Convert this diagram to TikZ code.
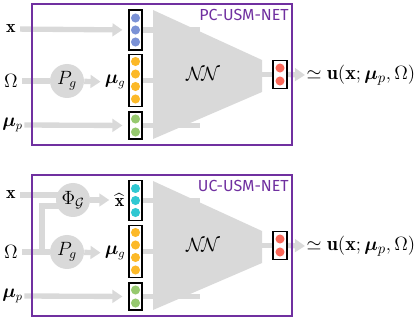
\documentclass[tikz,border=0pt]{standalone}
\usepackage{amsmath,amssymb,bm}
\usepackage{fontspec}
\setsansfont{Fira Sans}
\usetikzlibrary{arrows.meta,positioning,calc,backgrounds}
\definecolor{frame}{RGB}{112,48,160}
\definecolor{flow}{gray}{0.85}
\definecolor{dotblue}{RGB}{123,146,214}
\definecolor{dotorange}{RGB}{252,185,40}
\definecolor{dotgreen}{RGB}{150,201,110}
\definecolor{dotred}{RGB}{250,105,90}
\definecolor{dotcyan}{RGB}{48,200,210}
\newcommand{\bx}{\mathbf{x}}
\newcommand{\bmu}{\bm{\mu}}
\tikzset{vec/.style={draw,line width=0.8pt,minimum width=9.75pt,inner sep=0pt},
  op/.style={circle,fill=flow,minimum size=25.5pt,inner sep=0pt,font=\fontsize{14}{16}\selectfont},
  lab/.style={inner sep=1pt,font=\fontsize{13.5}{16}\selectfont},
  big/.style={inner sep=1pt,font=\fontsize{15}{18}\selectfont},
  flowln/.style={draw=flow,line width=4pt},
  arr/.style={flowln,-{Triangle[length=7.5pt,width=9.5pt]}},
  panel/.style={draw=frame,line width=1.5pt},
  tag/.style={text=frame,font=\sffamily\fontsize{12}{14}\selectfont,anchor=north east,inner sep=0pt}}

\begin{document}
\begin{tikzpicture}[x=0.75pt,y=-0.75pt]
\useasboundingbox (0,0) rectangle (415,321);
% PC-USM-NET
\draw[panel] (32,4) rectangle (292,145);
\node[tag] (pc) at (289,9){PC-USM-NET};
\node[lab] (x1) at (11,29){$\bx$}; \node[lab] (om1) at (11,81){$\Omega$}; \node[lab] (mp1) at (12.5,125){$\bmu_p$};
\node[op] (pg1) at (67,81){$P_g$}; \node[lab,anchor=east] (mg1) at (127,82){$\bmu_g$};
\node[vec,minimum height=30pt] (c11) at (135.5,30){}; \node[vec,minimum height=39pt] (c12) at (135.5,80.25){};
\node[vec,minimum height=20.25pt] (c13) at (135.5,125.5){};
\fill[flow] (153,10) -- (262,60) -- (262,92) -- (153,139) -- cycle;
\coordinate (nc1) at (200,75);
\node[big] (nn1) at (203,74){$\mathcal{N}\!\mathcal{N}$};
\node[vec,minimum width=10.5pt,minimum height=21pt] (o1) at (280,74.5){};
\node[big,anchor=west] (u1) at (305,75){$\simeq \mathbf{u}(\bx;\bmu_p,\Omega)$};
\foreach \y in {18,30,42} \fill[dotblue] (135.5,\y) circle (3.4pt);
\foreach \y in {61.5,74,86.5,99} \fill[dotorange] (135.5,\y) circle (3.4pt);
\foreach \y in {119,132} \fill[dotgreen] (135.5,\y) circle (3.4pt);
\foreach \y in {68,81} \fill[dotred] (280,\y) circle (3.4pt);
\begin{scope}[on background layer]
\draw[arr,shorten <=2pt,shorten >=4.5pt] (x1) -- (c11);
\draw[flowln,shorten <=2pt] (om1) -- (pg1); \draw[arr,shorten >=2pt] (pg1) -- (mg1);
\draw[arr,shorten >=4.5pt] (mp1.east) -- (c13.west);
\draw[flowln] (c11.east) -- (c11 -| nc1); \draw[flowln] (c12.east) -- (c12 -| nc1); \draw[flowln] (c13.east) -- (c13 -| nc1);
\draw[flowln] (o1.west) -- (o1 -| nc1); \draw[arr] (o1.east) -- (u1.west);
\end{scope}
% UC-USM-NET
\draw[panel] (32,175) rectangle (292,316);
\node[tag] (uc) at (289,180){UC-USM-NET};
\node[lab] (x2) at (11,195){$\bx$}; \node[lab] (om2) at (11,252){$\Omega$}; \node[lab] (mp2) at (12.5,296){$\bmu_p$};
\node[op] (phi) at (73,200){$\Phi_{\mathcal{G}}$}; \node[lab,anchor=east] (xh) at (126,200){$\widehat{\bx}$};
\node[op] (pg2) at (67,252){$P_g$}; \node[lab,anchor=east] (mg2) at (127,253){$\bmu_g$};
\node[vec,minimum height=30pt] (c21) at (135.5,200.5){}; \node[vec,minimum height=39pt] (c22) at (135.5,251.25){};
\node[vec,minimum height=20.25pt] (c23) at (135.5,296.5){};
\fill[flow] (153,181) -- (262,231) -- (262,263) -- (153,310) -- cycle;
\coordinate (nc2) at (200,246);
\node[big] (nn2) at (203,245){$\mathcal{N}\!\mathcal{N}$};
\node[vec,minimum width=10.5pt,minimum height=21pt] (o2) at (280,245.5){};
\node[big,anchor=west] (u2) at (305,246){$\simeq \mathbf{u}(\bx;\bmu_p,\Omega)$};
\foreach \y in {188.5,200.5,212.5} \fill[dotcyan] (135.5,\y) circle (3.4pt);
\foreach \y in {232.5,245,257.5,270} \fill[dotorange] (135.5,\y) circle (3.4pt);
\foreach \y in {290,303} \fill[dotgreen] (135.5,\y) circle (3.4pt);
\foreach \y in {239,252} \fill[dotred] (280,\y) circle (3.4pt);
\coordinate (br) at (42,206);
\begin{scope}[on background layer]
\draw[flowln,shorten <=2pt] (x2.east) -- (x2.east -| phi);
\draw[flowln] (br |- om2) -- (br) -- (br -| phi); \draw[arr,shorten >=3pt] (phi) -- (xh.west |- phi);
\draw[flowln,shorten <=2pt] (om2) -- (pg2); \draw[arr,shorten >=2pt] (pg2) -- (mg2);
\draw[arr,shorten >=4.5pt] (mp2.east) -- (c23.west);
\draw[flowln] (c21.east) -- (c21 -| nc2); \draw[flowln] (c22.east) -- (c22 -| nc2); \draw[flowln] (c23.east) -- (c23 -| nc2);
\draw[flowln] (o2.west) -- (o2 -| nc2); \draw[arr] (o2.east) -- (u2.west);
\end{scope}
\end{tikzpicture}
\end{document}
